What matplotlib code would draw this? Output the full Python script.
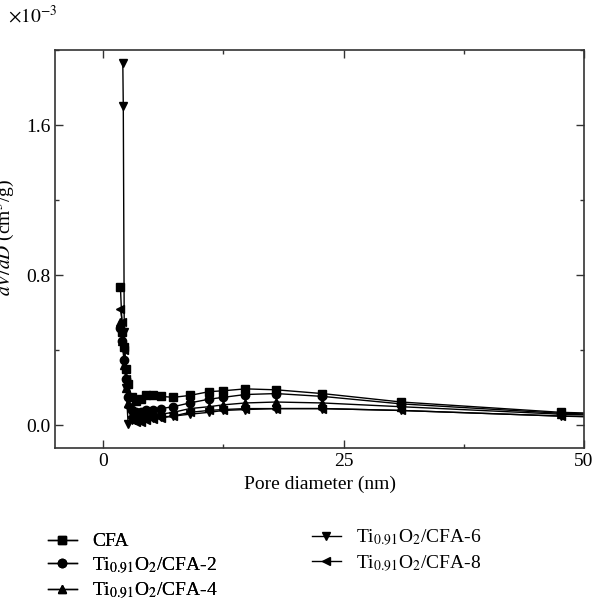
import matplotlib
matplotlib.use("Agg")
import matplotlib.pyplot as plt
from matplotlib.ticker import MultipleLocator

plt.rcParams["font.family"] = "Liberation Serif"
plt.rcParams["mathtext.fontset"] = "stix"

# pore diameter (nm), dV/dD in units of 1e-3 cm3/g
x_common = [1.8, 2.0, 2.2, 2.4, 2.6, 3.0, 3.4, 3.9, 4.5, 5.2, 6.0, 7.3,
            9.0, 11.0, 12.5, 14.8, 18.0, 22.8, 31.0, 47.6, 55.0]
cfa = [0.74, 0.50, 0.42, 0.30, 0.22, 0.15, 0.13, 0.14, 0.16, 0.16, 0.155,
       0.15, 0.16, 0.18, 0.185, 0.195, 0.19, 0.17, 0.125, 0.07, 0.06]
cfa2 = [0.52, 0.45, 0.35, 0.25, 0.15, 0.08, 0.07, 0.07, 0.08, 0.08, 0.09,
        0.10, 0.12, 0.14, 0.15, 0.165, 0.17, 0.155, 0.115, 0.065, 0.055]
cfa4 = [0.55, 0.45, 0.32, 0.20, 0.12, 0.06, 0.04, 0.04, 0.05, 0.05, 0.06,
        0.07, 0.09, 0.10, 0.11, 0.12, 0.125, 0.12, 0.10, 0.06, 0.05]
x_cfa6 = [2.05, 2.1, 2.2, 2.4, 2.6, 3.0, 3.4, 3.9, 4.5, 5.2, 6.0, 7.3,
          9.0, 11.0, 12.5, 14.8, 18.0, 22.8, 31.0, 47.6, 55.0]
cfa6 = [1.93, 1.70, 0.50, 0.20, 0.01, 0.03, 0.03, 0.035, 0.04, 0.04, 0.045,
        0.05, 0.06, 0.07, 0.08, 0.085, 0.09, 0.09, 0.08, 0.05, 0.04]
cfa8 = [0.62, 0.55, 0.40, 0.25, 0.10, 0.03, 0.02, 0.02, 0.03, 0.035, 0.04,
        0.05, 0.07, 0.08, 0.085, 0.09, 0.09, 0.09, 0.08, 0.05, 0.045]

labels = ["CFA",
          r"Ti$_{0.91}$O$_2$/CFA-2",
          r"Ti$_{0.91}$O$_2$/CFA-4",
          r"Ti$_{0.91}$O$_2$/CFA-6",
          r"Ti$_{0.91}$O$_2$/CFA-8"]

fig = plt.figure(figsize=(5.92, 6.06), dpi=100)
ax = fig.add_axes([0.0929, 0.2607, 0.8936, 0.6568])

kw = dict(color="black", lw=1.0, ms=6)
h1, = ax.plot(x_common, cfa, marker="s", label=labels[0], **kw)
h2, = ax.plot(x_common, cfa2, marker="o", label=labels[1], **kw)
h3, = ax.plot(x_common, cfa4, marker="^", label=labels[2], **kw)
h4, = ax.plot(x_cfa6, cfa6, marker="v", label=labels[3], **kw)
h5, = ax.plot(x_common, cfa8, marker="<", label=labels[4], **kw)

ax.set_xlim(-5, 50)
ax.set_ylim(-0.12, 2.0)
ax.set_xticks([0, 25, 50])
ax.set_yticks([0.0, 0.8, 1.6])
ax.set_yticklabels(["0.0", "0.8", "1.6"])
ax.xaxis.set_minor_locator(MultipleLocator(12.5))
ax.yaxis.set_minor_locator(MultipleLocator(0.4))
ax.tick_params(which="both", direction="in", top=True, right=True,
               labelsize=14, width=1, color="#333333")
ax.tick_params(which="major", length=6)
ax.tick_params(which="minor", length=3)
for s in ax.spines.values():
    s.set_color("#333333")
    s.set_linewidth(1.2)

ax.set_xlabel("Pore diameter (nm)", fontsize=14)
ax.set_ylabel(r"$dV/dD$ (cm$^3$/g)", fontsize=14)
ax.yaxis.set_label_coords(-0.072, 0.53)
fig.text(0.014, 0.975, r"$\times10^{-3}$", fontsize=14, va="center")

leg1 = fig.legend(handles=[h1, h2, h3], loc="upper left",
                  bbox_to_anchor=(0.064, 0.137), frameon=False, fontsize=14,
                  handlelength=1.5, labelspacing=0.25, borderpad=0)
fig.legend(handles=[h4, h5], loc="upper left",
           bbox_to_anchor=(0.51, 0.145), frameon=False, fontsize=14,
           handlelength=1.5, labelspacing=0.25, borderpad=0)
fig.add_artist(leg1)

fig.savefig("out.png", dpi=100)
